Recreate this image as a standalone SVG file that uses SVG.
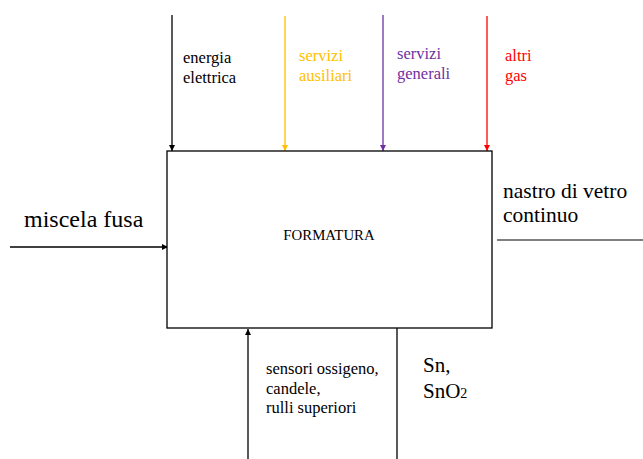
<svg xmlns="http://www.w3.org/2000/svg" width="643" height="459" viewBox="0 0 643 459" font-family="'Liberation Serif', 'Times New Roman', 'DejaVu Serif', serif">
<style>
.t{font-family:'Liberation Serif','Times New Roman','DejaVu Serif',serif}
.s{font-size:16.5px}
.ln{stroke-width:1.3;fill:none}
</style>
<defs>
<marker id="ak" markerWidth="8" markerHeight="8" refX="6" refY="3" orient="auto" markerUnits="userSpaceOnUse"><path d="M0,0L6,3L0,6z" fill="#000"/></marker>
<marker id="ay" markerWidth="8" markerHeight="8" refX="6" refY="3" orient="auto" markerUnits="userSpaceOnUse"><path d="M0,0L6,3L0,6z" fill="#FFC000"/></marker>
<marker id="ap" markerWidth="8" markerHeight="8" refX="6" refY="3" orient="auto" markerUnits="userSpaceOnUse"><path d="M0,0L6,3L0,6z" fill="#7030A0"/></marker>
<marker id="ar" markerWidth="8" markerHeight="8" refX="6" refY="3" orient="auto" markerUnits="userSpaceOnUse"><path d="M0,0L6,3L0,6z" fill="#FF0000"/></marker>
</defs>
<rect width="643" height="459" fill="#fff"/>
<g id="connectors">
<line class="ln" x1="172" y1="15" x2="172" y2="151" stroke="#000" marker-end="url(#ak)"/>
<line class="ln" x1="285" y1="16" x2="285" y2="151" stroke="#FFC000" marker-end="url(#ay)"/>
<line class="ln" x1="383" y1="15" x2="383" y2="151" stroke="#7030A0" marker-end="url(#ap)"/>
<line class="ln" x1="487" y1="16" x2="487" y2="151" stroke="#FF0000" marker-end="url(#ar)"/>
<line class="ln" x1="10" y1="247" x2="168" y2="247" stroke="#000" marker-end="url(#ak)"/>
<line class="ln" x1="497" y1="240" x2="643" y2="240" stroke="#555"/>
<line class="ln" x1="248" y1="459" x2="248" y2="329" stroke="#000" marker-end="url(#ak)"/>
<line class="ln" x1="397" y1="328" x2="397" y2="459" stroke="#000"/>
</g>
<g id="formatura" class="t">
<rect x="167" y="151" width="325" height="177" fill="#fff" stroke="#000" stroke-width="1.3"/>
<text class="t" x="329" y="240" font-size="14.8" text-anchor="middle">FORMATURA</text>
</g>
<g id="energia" class="t">
<text class="t s" x="183" y="63">energia</text>
<text class="t s" x="183" y="83">elettrica</text>
</g>
<g id="ausiliari" class="t" fill="#FFC000">
<text class="t s" x="299" y="61">servizi</text>
<text class="t s" x="299" y="81">ausiliari</text>
</g>
<g id="generali" class="t" fill="#7030A0">
<text class="t s" x="397" y="59">servizi</text>
<text class="t s" x="397" y="79">generali</text>
</g>
<g id="gas" class="t" fill="#FF0000">
<text class="t s" x="505" y="61">altri</text>
<text class="t s" x="505" y="81">gas</text>
</g>
<g id="miscela" class="t">
<text class="t" x="24" y="227" font-size="24">miscela fusa</text>
</g>
<g id="nastro" class="t">
<text class="t" x="503" y="198" font-size="21.5">nastro di vetro</text>
<text class="t" x="503" y="222" font-size="21.5">continuo</text>
</g>
<g id="sensori" class="t">
<text class="t s" x="266" y="374">sensori ossigeno,</text>
<text class="t s" x="266" y="394">candele,</text>
<text class="t s" x="266" y="413">rulli superiori</text>
</g>
<g id="sn" class="t">
<text class="t" x="423" y="372" font-size="21">Sn,</text>
<text class="t" x="423" y="398" font-size="21">SnO<tspan font-size="14">2</tspan></text>
</g>
</svg>
